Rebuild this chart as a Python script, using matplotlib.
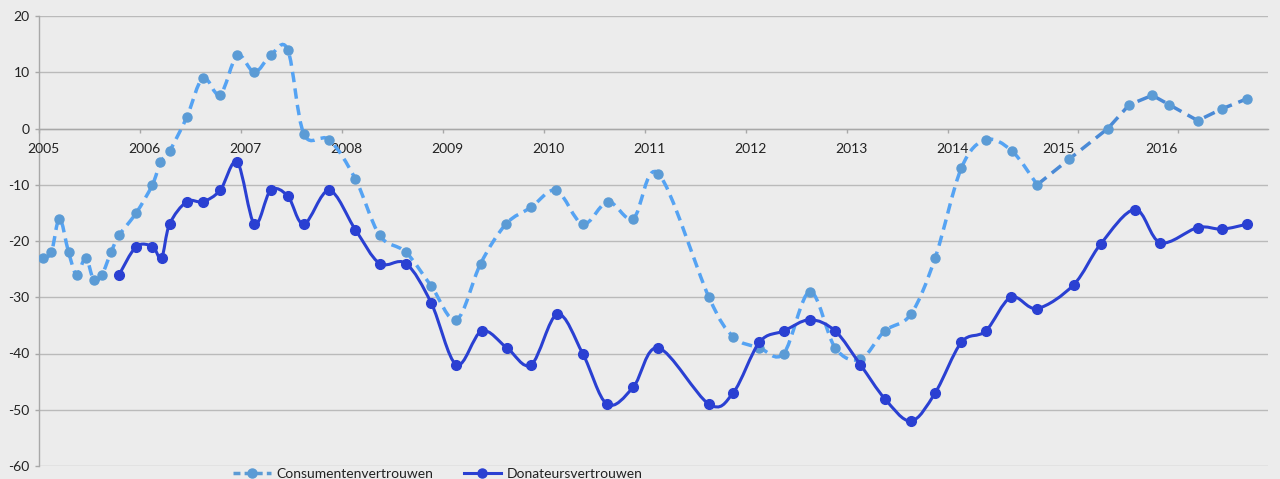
import matplotlib
matplotlib.use("Agg")
import matplotlib.pyplot as plt
import numpy as np
from matplotlib.path import Path
from matplotlib.patches import PathPatch
from matplotlib.lines import Line2D

plt.rcParams['font.family'] = ['Lato', 'DejaVu Sans']

# ---- data ----
cons_years = [2005.04, 2005.12, 2005.20, 2005.29, 2005.37, 2005.46, 2005.54, 2005.62,
              2005.71, 2005.79, 2005.96, 2006.12, 2006.20, 2006.29, 2006.46, 2006.62,
              2006.79, 2006.96, 2007.13, 2007.29, 2007.46, 2007.62, 2007.87, 2008.13,
              2008.37, 2008.63, 2008.88, 2009.13, 2009.37, 2009.62, 2009.87, 2010.12,
              2010.38, 2010.63, 2010.88, 2011.13, 2011.63, 2011.87, 2012.13, 2012.37,
              2012.63, 2012.88, 2013.13, 2013.37, 2013.63, 2013.87, 2014.13, 2014.37,
              2014.63, 2014.88, 2015.20, 2015.58, 2015.79, 2016.02, 2016.19, 2016.47,
              2016.71, 2016.96]
cons_values = [-23, -22, -16, -22, -26, -23, -27, -26,
               -22, -19, -15, -10, -6, -4, 2, 9,
               6, 13, 10, 13, 14, -1, -2, -9,
               -19, -22, -28, -34, -24, -17, -14, -11,
               -17, -13, -16, -8, -30, -37, -39, -40,
               -29, -39, -41, -36, -33, -23, -7, -2,
               -4, -10, -5.4, 0, 4.2, 5.9, 4.2, 1.4,
               3.5, 5.3]

don_years = [2005.79, 2005.96, 2006.12, 2006.21, 2006.29, 2006.46, 2006.62, 2006.79,
             2006.96, 2007.13, 2007.29, 2007.46, 2007.62, 2007.87, 2008.13, 2008.37,
             2008.63, 2008.88, 2009.13, 2009.38, 2009.63, 2009.87, 2010.13, 2010.38,
             2010.62, 2010.88, 2011.13, 2011.63, 2011.87, 2012.13, 2012.37, 2012.63,
             2012.88, 2013.13, 2013.37, 2013.63, 2013.87, 2014.13, 2014.37, 2014.62,
             2014.88, 2015.24, 2015.51, 2015.85, 2016.10, 2016.47, 2016.71, 2016.96]
don_values = [-26, -21, -21, -23, -17, -13, -13, -11,
              -6, -17, -11, -12, -17, -11, -18, -24,
              -24, -31, -42, -36, -39, -42, -33, -40,
              -49, -46, -39, -49, -47, -38, -36, -34,
              -36, -42, -48, -52, -47, -38, -36, -30,
              -32, -27.8, -20.5, -14.4, -20.3, -17.6, -17.9, -17]

year_labels = ['2005', '2006', '2007', '2008', '2009', '2010', '2011', '2012',
               '2013', '2014', '2015', '2016']
year_label_pos = [2005.04, 2006.04, 2007.04, 2008.04, 2009.04, 2010.04, 2011.04,
                  2012.04, 2013.04, 2014.04, 2015.09, 2016.11]
year_tick_pos = [2005, 2006, 2007, 2008, 2009, 2010, 2011, 2012, 2013, 2014,
                 2015.28, 2016.27]
y_ticks = [-60, -50, -40, -30, -20, -10, 0, 10, 20]

series_names = ['Consumentenvertrouwen', 'Donateursvertrouwen']

# ---- style ----
bg = '#ececec'
grid_c = '#bababa'
cons_line = '#55a3f3'
cons_line2 = '#4a8ad6'
cons_mark = '#5b9bd5'
don_c = '#2a40d2'


def smooth_path(xs, ys):
    P = np.column_stack([xs, ys]).astype(float)
    n = len(P)
    verts = [tuple(P[0])]
    codes = [Path.MOVETO]
    for i in range(n - 1):
        p0 = P[i - 1] if i > 0 else P[i]
        p1 = P[i]
        p2 = P[i + 1]
        p3 = P[i + 2] if i + 2 < n else P[i + 1]
        c1 = p1 + (p2 - p0) / 6.0
        c2 = p2 - (p3 - p1) / 6.0
        verts += [tuple(c1), tuple(c2), tuple(p2)]
        codes += [Path.CURVE4] * 3
    return Path(verts, codes)


fig = plt.figure(figsize=(12.8, 4.79), dpi=100)
fig.patch.set_facecolor(bg)
ax = fig.add_axes([39.3 / 1280, 13 / 479, (1268 - 39.3) / 1280, 450 / 479])
ax.set_facecolor(bg)

x0 = 2005.0
x1 = 2005.0 + (1268 - 39.3) / 101.0
ax.set_xlim(x0, x1)
ax.set_ylim(-60, 20)

# grid
for yv in y_ticks:
    ax.axhline(yv, color=grid_c, lw=1.0, zorder=1)

ax.spines['top'].set_visible(False)
ax.spines['right'].set_visible(False)
ax.spines['bottom'].set_position(('data', 0))
ax.spines['bottom'].set_color('#a8a8a8')
ax.spines['left'].set_color('#a8a8a8')
ax.spines['left'].set_linewidth(1.0)
ax.spines['bottom'].set_linewidth(1.0)

ax.set_yticks(y_ticks)
ax.set_yticklabels([str(v) for v in y_ticks])
ax.tick_params(axis='y', direction='out', length=3, width=1, color='#a8a8a8',
               labelsize=10, pad=4, labelcolor='#222222')
ax.set_xticks(year_tick_pos)
ax.set_xticklabels([''] * len(year_tick_pos))
ax.tick_params(axis='x', direction='out', length=3, width=1, color='#a8a8a8')

for lab, xp in zip(year_labels, year_label_pos):
    ax.annotate(lab, xy=(xp, 0), xytext=(0, -15), textcoords='offset points',
                ha='center', va='center', fontsize=10, color='#222222')

# consumer series: main part (smoothed) and pasted tail (straight)
split = cons_years.index(2014.88)
p1 = smooth_path(cons_years[:split + 1], cons_values[:split + 1])
ax.add_patch(PathPatch(p1, fill=False, ec=cons_line, lw=2.5,
                       linestyle=(0, (3, 1.8)), zorder=3))
ax.plot(cons_years[split:], cons_values[split:], color=cons_line2, lw=2.5,
        linestyle=(0, (3.4, 2.0)), zorder=3)
ax.plot(cons_years, cons_values, 'o', color=cons_mark, ms=6.5, mec=cons_mark, zorder=4)

# donor series
pd_ = smooth_path(don_years, don_values)
ax.add_patch(PathPatch(pd_, fill=False, ec=don_c, lw=2.2, zorder=5))
ax.plot(don_years, don_values, 'o', color=don_c, ms=7, mec=don_c, zorder=6)

handles = [
    Line2D([0], [0], color=cons_mark, lw=2.5, linestyle=(0, (2, 1.2)), marker='o', ms=6.5),
    Line2D([0], [0], color=don_c, lw=2.2, marker='o', ms=6.5),
]
leg = fig.legend(handles, series_names, loc='center', bbox_to_anchor=(0.342, 0.01),
                 ncol=2, frameon=False, fontsize=10, handlelength=2.7,
                 handletextpad=0.4, columnspacing=2.2, borderaxespad=0)
for t in leg.get_texts():
    t.set_color('#222222')

fig.savefig('out.png', dpi=100, facecolor=bg)
